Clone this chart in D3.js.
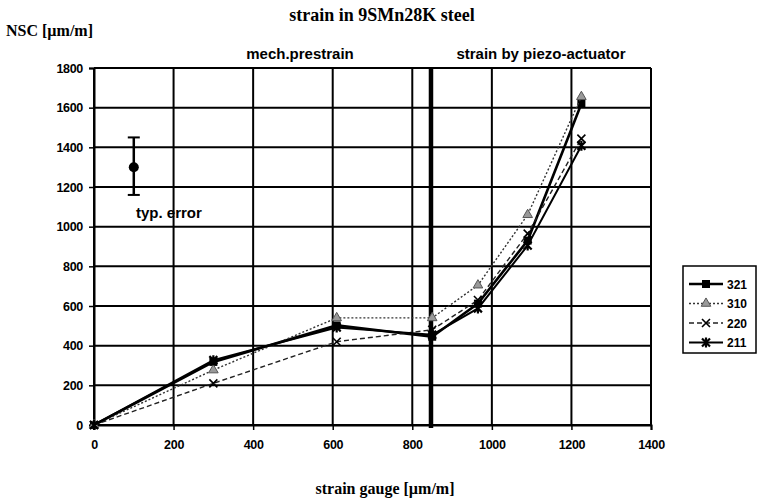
<!DOCTYPE html>
<html>
<head lang="en">
  <meta charset="UTF-8">
  <title>strain in 9SMn28K steel</title>
</head>
<style>
  body { margin: 0; background: #fff; }
  .tick text { font-family: "Liberation Sans", Arial, sans-serif; font-weight: bold; font-size: 12.5px; letter-spacing: -0.3px; }
  .serif { font-family: "Liberation Serif", "Times New Roman", serif; font-weight: bold; }
  .sans { font-family: "Liberation Sans", Arial, sans-serif; font-weight: bold; }
</style>
<body>

<svg id="chart" width="764" height="498"></svg>

<script src="https://cdn.jsdelivr.net/npm/d3@7"></script>
<script>
  // Data
  var strainGauge = [0, 300, 610, 850, 965, 1090, 1225];
  var s321 = [0, 318, 502, 445, 612, 930, 1620];
  var s310 = [0, 277, 540, 540, 705, 1060, 1655];
  var s220 = [0, 210, 420, 480, 630, 965, 1444];
  var s211 = [0, 327, 492, 455, 588, 905, 1408];
  var seriesNames = ['321', '310', '220', '211'];
  var xTicks = [0, 200, 400, 600, 800, 1000, 1200, 1400];
  var yTicks = [0, 200, 400, 600, 800, 1000, 1200, 1400, 1600, 1800];
  var piezoStart = 847;
  var typError = { x: 100, y: 1300, lo: 1160, hi: 1450 };

  var seriesValues = [s321, s310, s220, s211];

  var chart = d3.select('#chart');

  var x = d3.scaleLinear().domain([0, 1400]).range([94, 651]);
  var y = d3.scaleLinear().domain([0, 1800]).range([425, 68]);

  // Grid
  chart.append('g')
    .selectAll('line.h')
    .data(yTicks)
    .enter().append('line')
    .attr('x1', x(0)).attr('x2', x(1400))
    .attr('y1', function(d) { return y(d); })
    .attr('y2', function(d) { return y(d); })
    .attr('stroke', '#000').attr('stroke-width', 2);

  chart.append('g')
    .selectAll('line.v')
    .data(xTicks)
    .enter().append('line')
    .attr('y1', y(0)).attr('y2', y(1800))
    .attr('x1', function(d) { return x(d); })
    .attr('x2', function(d) { return x(d); })
    .attr('stroke', '#000').attr('stroke-width', 2);

  // Axes
  var xAxis = chart.append('g')
    .attr('transform', 'translate(0,' + y(0) + ')')
    .call(d3.axisBottom(x).tickValues(xTicks).tickSize(5).tickPadding(10).tickFormat(d3.format('d')));
  var yAxis = chart.append('g')
    .attr('transform', 'translate(' + x(0) + ',0)')
    .call(d3.axisLeft(y).tickValues(yTicks).tickSize(5).tickPadding(6).tickFormat(d3.format('d')));
  [xAxis, yAxis].forEach(function(a) {
    a.select('.domain').attr('stroke-width', 2);
    a.selectAll('.tick line').attr('stroke-width', 1.5);
  });

  // Separator between prestrain and piezo
  chart.append('line')
    .attr('x1', x(piezoStart)).attr('x2', x(piezoStart))
    .attr('y1', y(1800)).attr('y2', y(0) + 3)
    .attr('stroke', '#000').attr('stroke-width', 4.5);

  // Series
  var styles = [
    { width: 2.6, dash: null, color: '#000' },
    { width: 1.4, dash: '2,2', color: '#333' },
    { width: 1.4, dash: '5,3', color: '#222' },
    { width: 2, dash: null, color: '#000' }
  ];

  var line = d3.line()
    .x(function(d, i) { return x(strainGauge[i]); })
    .y(function(d) { return y(d); });

  function marker(g, k) {
    if (k === 0) {
      g.append('rect').attr('x', -4).attr('y', -4).attr('width', 8).attr('height', 8).attr('fill', '#000');
    } else if (k === 1) {
      g.append('path').attr('d', d3.symbol().type(d3.symbolTriangle).size(40)())
        .attr('fill', '#999').attr('stroke', '#555').attr('stroke-width', 1);
    } else if (k === 2) {
      g.append('path').attr('d', 'M-4,-4L4,4M-4,4L4,-4').attr('stroke', '#000').attr('stroke-width', 1.6);
    } else {
      g.append('path').attr('d', 'M-4,-4L4,4M-4,4L4,-4M0,-5L0,5').attr('stroke', '#000').attr('stroke-width', 2.2);
    }
  }

  seriesValues.forEach(function(vals, k) {
    var st = styles[k];
    chart.append('path')
      .datum(vals)
      .attr('d', line)
      .attr('fill', 'none')
      .attr('stroke', st.color)
      .attr('stroke-width', st.width)
      .attr('stroke-dasharray', st.dash);
    chart.append('g').selectAll('g')
      .data(vals)
      .enter().append('g')
      .attr('transform', function(d, i) { return 'translate(' + x(strainGauge[i]) + ',' + y(d) + ')'; })
      .each(function() { marker(d3.select(this), k); });
  });

  // Typical error
  var eg = chart.append('g');
  eg.append('line').attr('x1', x(typError.x)).attr('x2', x(typError.x))
    .attr('y1', y(typError.hi)).attr('y2', y(typError.lo)).attr('stroke', '#000').attr('stroke-width', 2.5);
  [typError.hi, typError.lo].forEach(function(v) {
    eg.append('line').attr('x1', x(typError.x) - 6).attr('x2', x(typError.x) + 6)
      .attr('y1', y(v)).attr('y2', y(v)).attr('stroke', '#000').attr('stroke-width', 2);
  });
  eg.append('circle').attr('cx', x(typError.x)).attr('cy', y(typError.y)).attr('r', 5).attr('fill', '#000');
  chart.append('text').attr('class', 'sans').attr('x', 136).attr('y', 218)
    .attr('font-size', 15).text('typ. error');

  // Legend
  var lg = chart.append('g').attr('transform', 'translate(683,266)');
  lg.append('rect').attr('width', 73).attr('height', 87).attr('fill', '#fff')
    .attr('stroke', '#000').attr('stroke-width', 1.5);
  seriesNames.forEach(function(name, k) {
    var row = lg.append('g').attr('transform', 'translate(0,' + (18 + k * 19.5) + ')');
    row.append('line').attr('x1', 6).attr('x2', 40).attr('y1', 0).attr('y2', 0)
      .attr('stroke', styles[k].color).attr('stroke-width', styles[k].width)
      .attr('stroke-dasharray', styles[k].dash);
    marker(row.append('g').attr('transform', 'translate(23,0)'), k);
    row.append('text').attr('class', 'sans').attr('x', 44).attr('y', 4.5)
      .attr('font-size', 12).text(name);
  });

  // Titles
  chart.append('text').attr('class', 'serif').attr('x', 382).attr('y', 21)
    .attr('text-anchor', 'middle').attr('font-size', 18).text('strain in 9SMn28K steel');
  chart.append('text').attr('class', 'serif').attr('x', 6).attr('y', 36)
    .attr('font-size', 16).text('NSC [\u00b5m/m]');
  chart.append('text').attr('class', 'sans').attr('x', 300).attr('y', 59)
    .attr('text-anchor', 'middle').attr('font-size', 15).text('mech.prestrain');
  chart.append('text').attr('class', 'sans').attr('x', 541).attr('y', 59)
    .attr('text-anchor', 'middle').attr('font-size', 15).text('strain by piezo-actuator');
  chart.append('text').attr('class', 'serif').attr('x', 385).attr('y', 494)
    .attr('text-anchor', 'middle').attr('font-size', 16).text('strain gauge [\u00b5m/m]');
</script>
</body>
</html>
